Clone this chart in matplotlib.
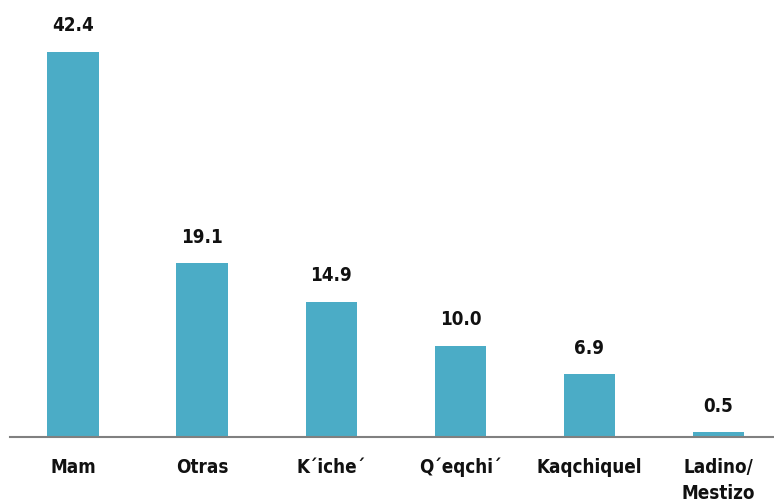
import matplotlib
matplotlib.use("Agg")
import matplotlib.pyplot as plt
from matplotlib import font_manager

# data
categories = ["Mam", "Otras", "K´iche´", "Q´eqchi´", "Kaqchiquel", "Ladino/\nMestizo"]
values = [42.4, 19.1, 14.9, 10.0, 6.9, 0.5]

names = {f.name for f in font_manager.fontManager.ttflist}
if "Liberation Sans Narrow" in names:
    family = "Liberation Sans Narrow"
else:
    family = "DejaVu Sans"
plt.rcParams["font.family"] = [family, "DejaVu Sans"]
plt.rcParams["font.stretch"] = "condensed"

fig = plt.figure(figsize=(7.74, 5.04), dpi=100)
ax = fig.add_axes([0.0129, 0.1329, 0.9871, 0.8671])

x = range(len(categories))
bars = ax.bar(x, values, width=0.4, color="#4BACC6", zorder=2)

for b, v in zip(bars, values):
    ax.annotate(f"{v:.1f}", (b.get_x() + b.get_width() / 2, v),
                xytext=(0, 12), textcoords="offset points",
                ha="center", va="bottom", fontsize=13.5, fontweight="bold",
                fontstretch="condensed", color="#111111")

ax.set_xlim(-0.49, 5.43)
ax.set_ylim(0, 48.1)
ax.set_xticks(list(x))
ax.set_xticklabels(categories, fontsize=13.5, linespacing=1.45, va="top",
                   fontstretch="condensed", fontweight="bold", color="#111111")
ax.tick_params(axis="x", length=0, pad=15)
ax.set_yticks([])
for s in ["top", "right", "left"]:
    ax.spines[s].set_visible(False)
ax.spines["bottom"].set_color("#808080")
ax.spines["bottom"].set_linewidth(1.5)

fig.savefig("out.png", dpi=100)
